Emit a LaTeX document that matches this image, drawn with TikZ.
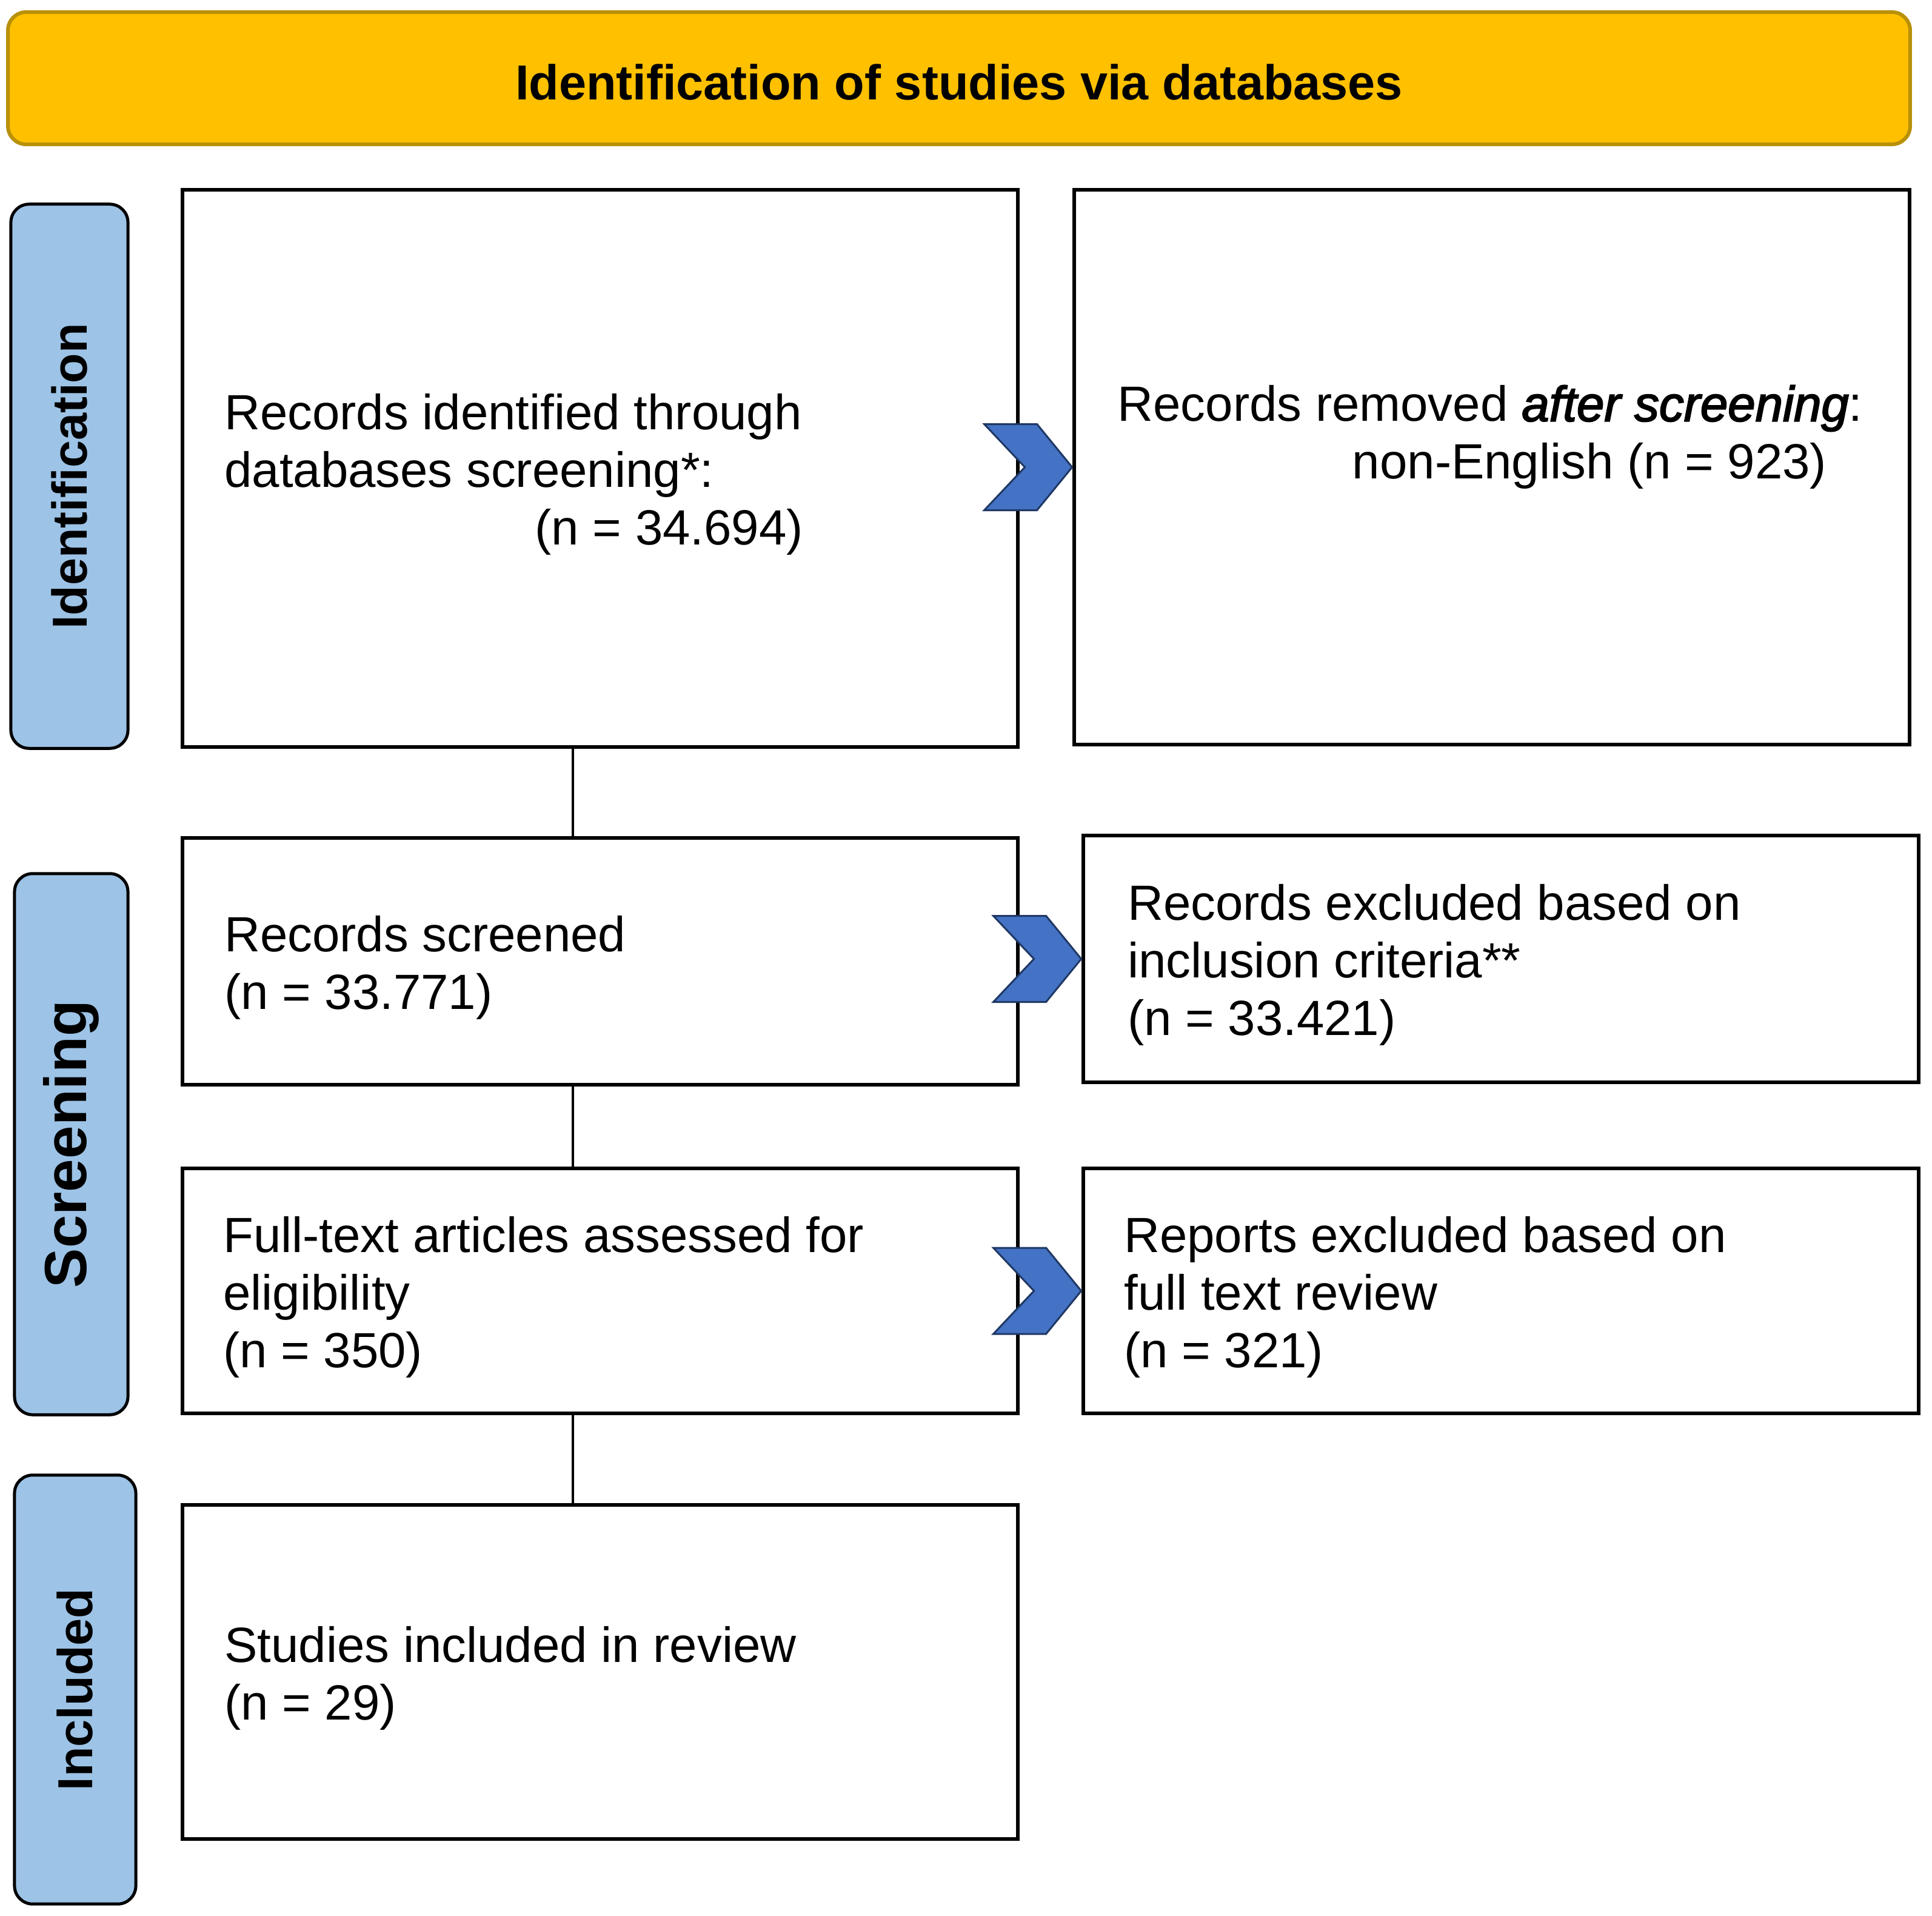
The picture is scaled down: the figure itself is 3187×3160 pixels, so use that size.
\documentclass[tikz,border=0pt]{standalone}
\usepackage{fontspec}
\setmainfont{Liberation Sans}
\newfontface\fakebolditalic{Liberation Sans Italic}[FakeBold=2.5]
\definecolor{bannerfill}{HTML}{FFC000}
\definecolor{bannerline}{HTML}{B8900A}
\definecolor{sideblue}{HTML}{9DC3E6}
\definecolor{chevblue}{HTML}{4472C4}
\definecolor{chevline}{HTML}{1F3864}
\begin{document}
\begin{tikzpicture}[x=0.01cm,y=-0.01cm,
  txt/.style={font=\fontsize{23.2}{27.03}\selectfont},
  flowbox/.style={draw=black, line width=0.06cm, minimum width=13.78cm, inner sep=0pt},
  tb/.style={txt, anchor=west, align=left, inner sep=0pt, xshift=0.72cm, yshift=-0.1cm},
  sidebox/.style={draw=black, line width=0.05cm, fill=sideblue, rounded corners=0.3cm,
    rotate=90, inner sep=0pt, font=\fontsize{23.05}{27}\selectfont\bfseries},
  banner/.style={draw=bannerline, line width=0.06cm, fill=bannerfill, rounded corners=0.3cm},
  conn/.style={draw=black, line width=0.035cm},
  chev/.pic={\filldraw[fill=chevblue, draw=chevline, line width=0.03cm, line join=miter]
    (0,0) -- (-58,-71) -- (-145,-71) -- (-78,0) -- (-145,71) -- (-58,71) -- cycle;}
]
\useasboundingbox (0,0) rectangle (3187,3160);
\fill[white] (0,0) rectangle (3187,3160);

% banner
\node[banner, minimum width=31.36cm, minimum height=2.18cm] (ban) at (1582,129) {};
\node[font=\fontsize{23.05}{27}\selectfont\bfseries, inner sep=0pt] (bantxt) at (1582,136)
  {Identification of studies via databases};

% side labels
\node[sidebox, minimum width=8.97cm, minimum height=1.93cm] (s1) at (114.5,785.5) {Identification};
\node[sidebox, minimum width=8.92cm, minimum height=1.87cm, font=\fontsize{27.9}{30}\selectfont\bfseries] (s2) at (117.5,1887) {Screening};
\node[sidebox, minimum width=7.07cm, minimum height=2.00cm] (s3) at (124,2786.5) {Included};

% flow boxes
\node[flowbox, minimum height=9.19cm] (b1) at (990,772.5) {};
\node[flowbox, minimum height=9.15cm] (b2) at (2461,770.5) {};
\node[flowbox, minimum height=4.07cm] (b3) at (990,1585.5) {};
\node[flowbox, minimum height=4.07cm] (b4) at (2476,1581.5) {};
\node[flowbox, minimum height=4.04cm] (b5) at (990,2129) {};
\node[flowbox, minimum height=4.04cm] (b6) at (2476,2129) {};
\node[flowbox, minimum height=5.51cm] (b7) at (990,2757.5) {};

% box texts
\node[tb] (t1) at (b1.west)
  {Records identified through\\databases screening*:\\\hspace*{5.12cm}(n = 34.694)};
\node[txt, anchor=west, align=left, inner sep=0pt] (t2) at (1843,721)
  {Records removed {\fakebolditalic after screening}:\\\hspace*{3.87cm}non-English (n = 923)};
\node[tb] (t3) at (b3.west) {Records screened\\(n = 33.771)};
\node[tb, xshift=0.04cm] (t4) at (b4.west) {Records excluded based on\\inclusion criteria**\\(n = 33.421)};
\node[tb, xshift=-0.02cm] (t5) at (b5.west) {Full-text articles assessed for\\eligibility\\(n = 350)};
\node[tb, xshift=-0.02cm] (t6) at (b6.west) {Reports excluded based on\\full text review\\(n = 321)};
\node[tb] (t7) at (b7.west) {Studies included in review\\(n = 29)};

% vertical connectors
\coordinate (cx) at (945,0);
\draw[conn] (b1.south -| cx) -- (b3.north -| cx);
\draw[conn] (b3.south -| cx) -- (b5.north -| cx);
\draw[conn] (b5.south -| cx) -- (b7.north -| cx);

% chevrons
\pic at (b2.west) {chev};
\pic at (b4.west) {chev};
\pic at (b6.west) {chev};
\end{tikzpicture}
\end{document}
